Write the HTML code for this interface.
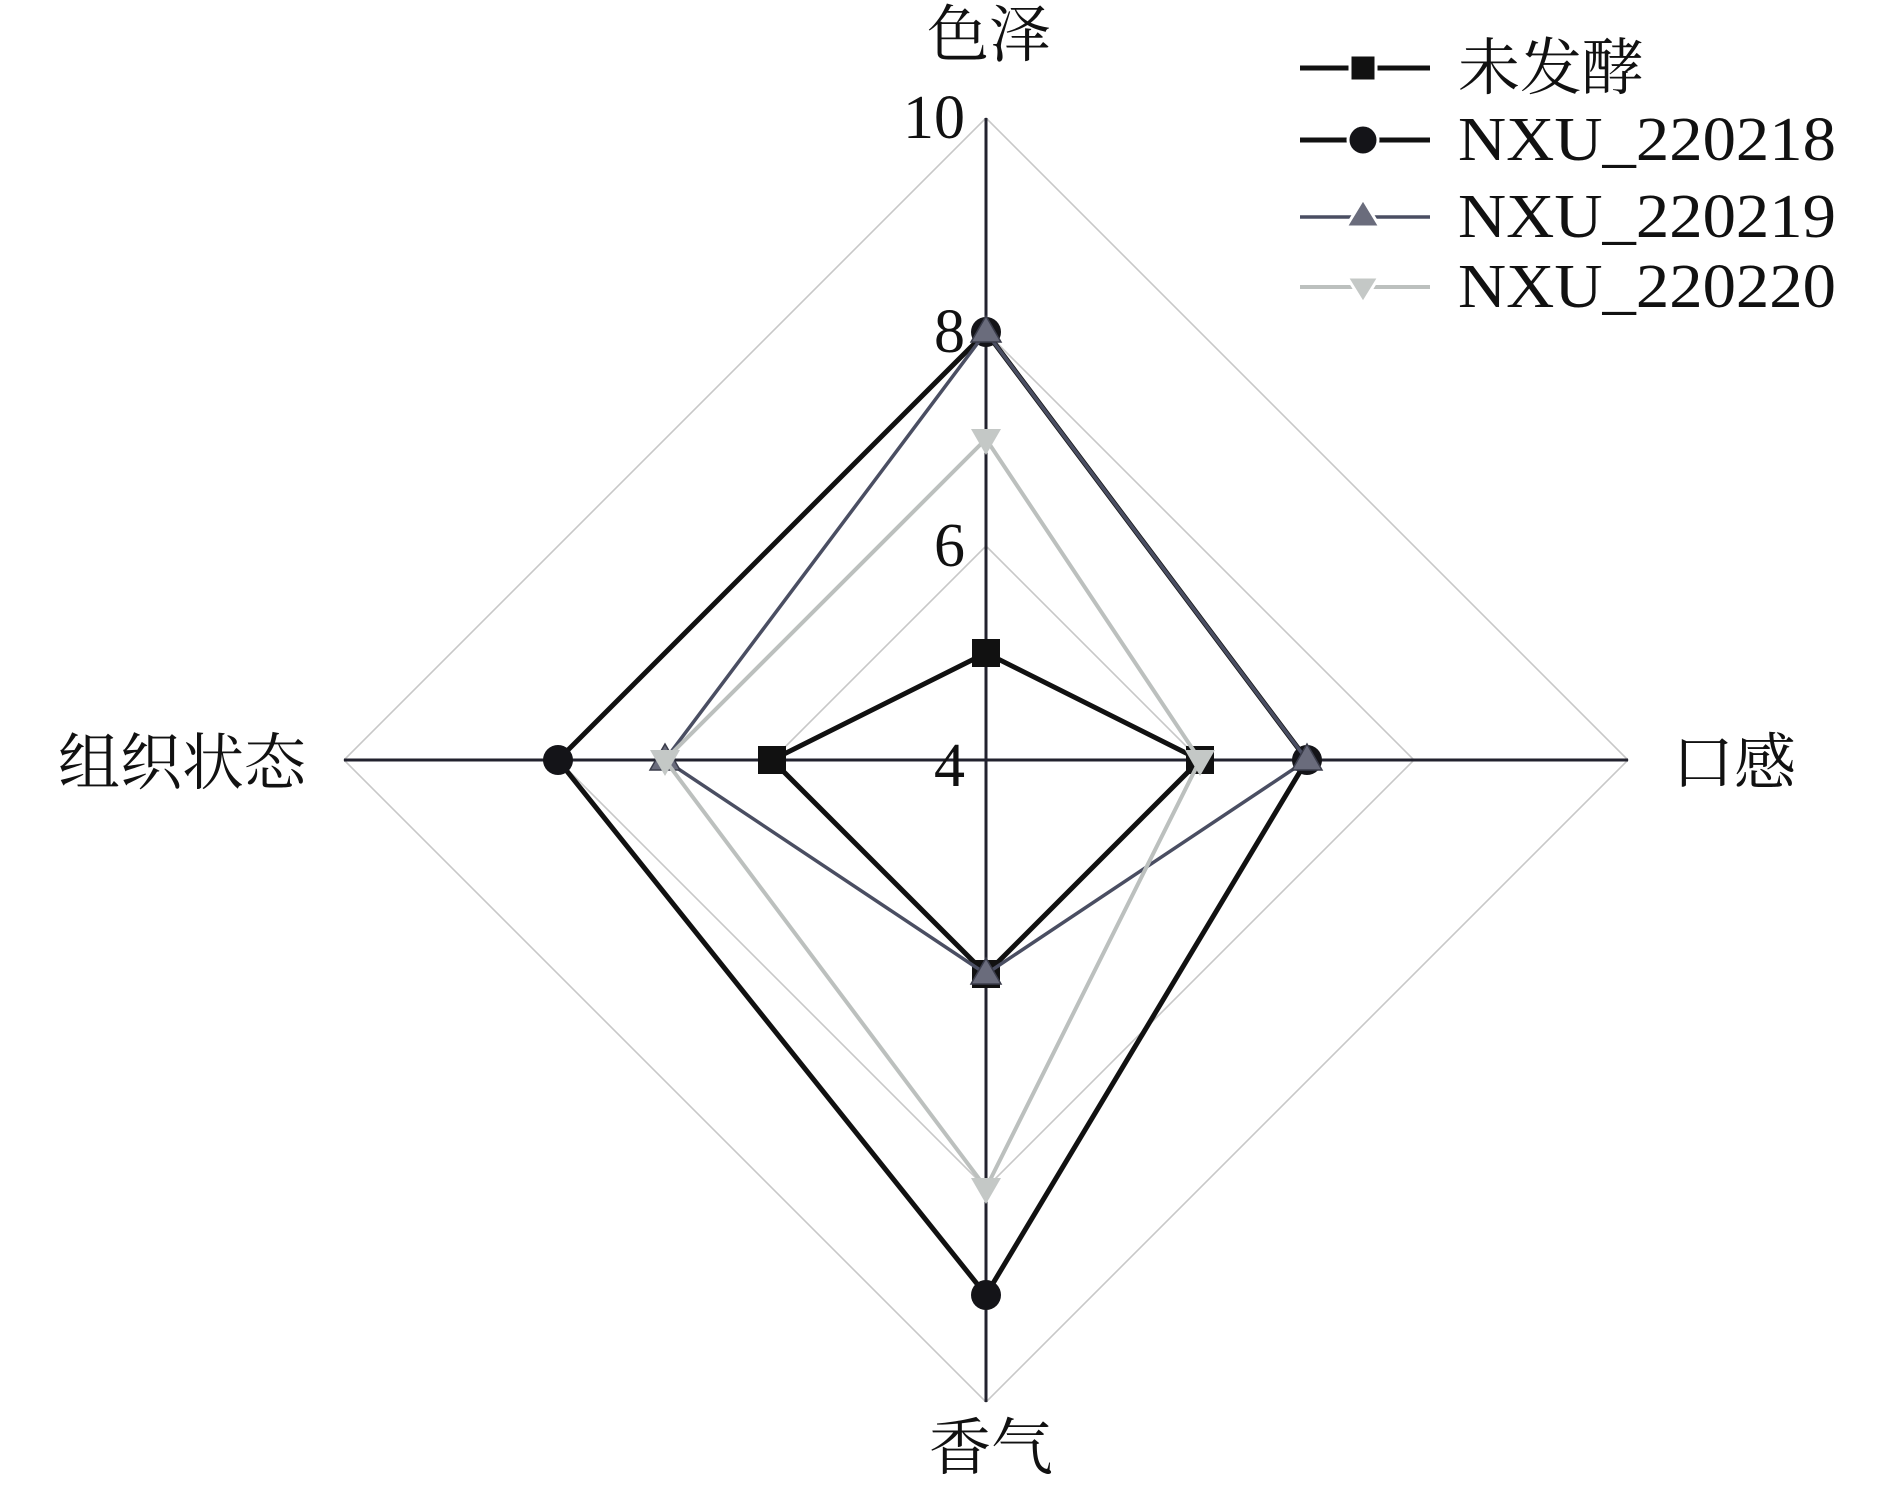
<!DOCTYPE html>
<html><head><meta charset="utf-8"><style>
html,body{margin:0;padding:0;background:#fff;}
svg{display:block;}
.cj{font-family:"Liberation Serif","Noto Serif CJK SC",serif;font-size:62px;fill:#111;}
.nm{font-family:"Liberation Serif",serif;font-size:62px;fill:#111;}
</style></head><body>
<svg width="1890" height="1489" viewBox="0 0 1890 1489" xmlns="http://www.w3.org/2000/svg">
<rect width="1890" height="1489" fill="#fff"/>
<!-- grid -->
<g fill="none" stroke="#c8c8c8" stroke-width="1.6">
<polygon points="986,546 1200,760 986,974 772,760"/>
<polygon points="986,332 1414,760 986,1188 558,760"/>
<polygon points="986,118 1628,760 986,1402 344,760"/>
</g>
<!-- axes -->
<g stroke="#22222e" stroke-width="3">
<line x1="986" y1="118" x2="986" y2="1402"/>
<line x1="344" y1="760" x2="1628" y2="760"/>
</g>
<!-- series 未发酵 -->
<polygon points="986,653 1200,760 986,974 772,760" fill="none" stroke="#111" stroke-width="5"/>
<g fill="#111">
<rect x="972" y="639" width="28" height="28"/><rect x="1186" y="746" width="28" height="28"/>
<rect x="972" y="960" width="28" height="28"/><rect x="758" y="746" width="28" height="28"/>
</g>
<!-- 218 -->
<polygon points="986,332 1307,760 986,1295 558,760" fill="none" stroke="#111" stroke-width="5"/>
<g fill="#141418">
<circle cx="986" cy="332" r="15"/><circle cx="1307" cy="760" r="15"/>
<circle cx="986" cy="1295" r="15"/><circle cx="558" cy="760" r="15"/>
</g>
<!-- 219 -->
<polygon points="986,332 1307,760 986,974 665,760" fill="none" stroke="#4a4e62" stroke-width="3.5"/>
<g fill="#6a6c7c" stroke="#3a3c4a" stroke-width="1.5">
<polygon points="986,316 1001,342 971,342"/><polygon points="1307,744 1322,770 1292,770"/>
<polygon points="986,958 1001,984 971,984"/><polygon points="665,744 680,770 650,770"/>
</g>
<!-- 220 -->
<polygon points="986,439 1200,760 986,1188 665,760" fill="none" stroke="#bcc0be" stroke-width="4"/>
<g fill="#c4c8c6">
<polygon points="971,429 1001,429 986,455"/><polygon points="1185,750 1215,750 1200,776"/>
<polygon points="971,1178 1001,1178 986,1204"/><polygon points="650,750 680,750 665,776"/>
</g>
<!-- tick labels -->
<g class="nm" text-anchor="end">
<text x="965" y="138">10</text>
<text x="965" y="352">8</text>
<text x="965" y="566">6</text>
<text x="965" y="786">4</text>
</g>
<!-- axis labels -->
<text class="cj" x="989" y="56" text-anchor="middle">色泽</text>
<text class="cj" x="1672" y="784">口感</text>
<text class="cj" x="58" y="784">组织状态</text>
<text class="cj" x="991" y="1469" text-anchor="middle">香气</text>
<!-- legend -->
<g>
<line x1="1300" y1="68" x2="1430" y2="68" stroke="#111" stroke-width="5"/>
<rect x="1350" y="55" width="26" height="26" fill="#111" stroke="#fff" stroke-width="3"/>
<line x1="1300" y1="140" x2="1430" y2="140" stroke="#111" stroke-width="5"/>
<circle cx="1363" cy="140" r="15" fill="#141418" stroke="#fff" stroke-width="3"/>
<line x1="1300" y1="217" x2="1430" y2="217" stroke="#4a4e62" stroke-width="3.5"/>
<polygon points="1363,199 1380,227 1346,227" fill="#6a6c7c" stroke="#fff" stroke-width="3"/>
<line x1="1300" y1="287" x2="1430" y2="287" stroke="#bcc0be" stroke-width="4"/>
<polygon points="1347,277 1379,277 1363,303" fill="#c4c8c6" stroke="#fff" stroke-width="3"/>
</g>
<text class="cj" x="1458" y="89">未发酵</text>
<text class="nm" x="1458" y="160" textLength="378" lengthAdjust="spacingAndGlyphs">NXU_220218</text>
<text class="nm" x="1458" y="237" textLength="378" lengthAdjust="spacingAndGlyphs">NXU_220219</text>
<text class="nm" x="1458" y="307" textLength="378" lengthAdjust="spacingAndGlyphs">NXU_220220</text>
</svg>
</body></html>
